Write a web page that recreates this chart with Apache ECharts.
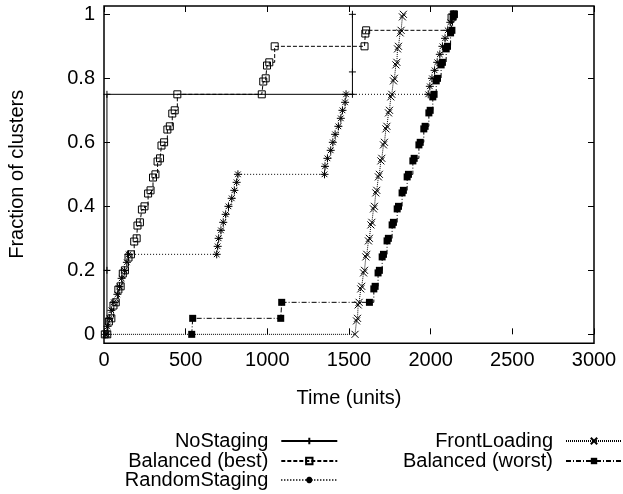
<!DOCTYPE html>
<html><head><meta charset="utf-8">
<script src="https://cdn.jsdelivr.net/npm/echarts@6/dist/echarts.min.js"></script>
<style>html,body{margin:0;padding:0;background:#fff}#c{width:623px;height:494px}</style>
</head><body><div id="c"></div>
<script>
const FONT = 'Liberation Sans, Arial, sans-serif';
const seriesNames = ['NoStaging', 'Balanced (best)', 'RandomStaging', 'FrontLoading', 'Balanced (worst)'];

const nsX = [18, 18, 18, 1521, 1521, 1521];
const nsY = [0, 0.2, 0.75, 0.75, 0.82, 1.0];

const bbX = [5, 20, 30, 45, 58, 72, 88, 102, 115, 128, 150, 165, 185, 200, 205, 220, 232, 248, 270, 285, 300, 315, 328, 343, 352, 368, 388, 403, 418, 433, 449, 966, 975, 990, 998, 1012, 1045, 1595, 1600, 1605, 2128, 2142];
const bbY = [0, 0, 0.04, 0.05, 0.09, 0.1, 0.14, 0.15, 0.19, 0.2, 0.24, 0.25, 0.29, 0.3, 0.34, 0.35, 0.39, 0.4, 0.44, 0.45, 0.49, 0.5, 0.54, 0.55, 0.59, 0.6, 0.64, 0.65, 0.69, 0.7, 0.75, 0.75, 0.79, 0.8, 0.84, 0.85, 0.9, 0.9, 0.94, 0.95, 0.99, 1.0];

const rsX = [8, 22, 33, 45, 60, 82, 95, 108, 125, 140, 150, 690, 696, 702, 716, 730, 745, 762, 782, 798, 812, 820, 1350, 1353, 1368, 1388, 1401, 1415, 1435, 1450, 1460, 1476, 1482, 1985, 1995, 2008, 2024, 2040, 2056, 2072, 2088, 2104, 2120, 2138];
const rsY = [0, 0.025, 0.05, 0.075, 0.1, 0.125, 0.15, 0.175, 0.2, 0.225, 0.25, 0.25, 0.275, 0.3, 0.325, 0.35, 0.375, 0.4, 0.425, 0.45, 0.475, 0.5, 0.5, 0.525, 0.55, 0.575, 0.6, 0.625, 0.65, 0.675, 0.7, 0.725, 0.75, 0.75, 0.775, 0.8, 0.825, 0.85, 0.875, 0.9, 0.925, 0.95, 0.975, 1.0];

const flX = [18, 1537, 1546, 1552, 1556, 1562, 1572, 1578, 1589, 1595, 1603, 1609, 1619, 1625, 1634, 1640, 1650, 1656, 1664, 1670, 1680, 1686, 1695, 1701, 1711, 1717, 1726, 1732, 1742, 1748, 1756, 1762, 1772, 1778, 1787, 1793, 1797, 1803, 1813, 1819, 1827, 1833];
const flY = [0, 0, 0.042, 0.05, 0.092, 0.1, 0.142, 0.15, 0.192, 0.2, 0.242, 0.25, 0.292, 0.3, 0.342, 0.35, 0.392, 0.4, 0.442, 0.45, 0.492, 0.5, 0.542, 0.55, 0.592, 0.6, 0.642, 0.65, 0.692, 0.7, 0.742, 0.75, 0.792, 0.8, 0.842, 0.85, 0.892, 0.9, 0.942, 0.95, 0.992, 1.0];

const bwX = [537, 543, 1082, 1088, 1625, 1652, 1660, 1678, 1686, 1703, 1711, 1733, 1741, 1764, 1772, 1795, 1803, 1825, 1833, 1856, 1864, 1891, 1899, 1928, 1936, 1958, 1966, 1989, 1997, 2013, 2021, 2034, 2042, 2064, 2072, 2095, 2103, 2122, 2130, 2138, 2144];
const bwY = [0, 0.05, 0.05, 0.1, 0.1, 0.142, 0.15, 0.192, 0.2, 0.242, 0.25, 0.292, 0.3, 0.342, 0.35, 0.392, 0.4, 0.442, 0.45, 0.492, 0.5, 0.542, 0.55, 0.592, 0.6, 0.642, 0.65, 0.692, 0.7, 0.742, 0.75, 0.792, 0.8, 0.842, 0.85, 0.892, 0.9, 0.942, 0.95, 0.992, 1.0];

const xMin = 0, xMax = 3000, xStep = 500;
const yMin = 0, yMax = 1, yStep = 0.2;

const PLUS = 'path://M0,5L10,5M5,0L5,10';
const CROSS = 'path://M0,0L10,10M10,0L0,10';
const STAR = 'path://M0,5L10,5M5,0L5,10M1.5,1.5L8.5,8.5M8.5,1.5L1.5,8.5';

function mk(name, xs, ys, symbol, size, lineType, itemStyle) {
  return {
    name, type: 'line', xAxisIndex: 0, yAxisIndex: 0, step: 'end',
    data: xs.map((x, i) => [x, ys[i]]),
    symbol, symbolSize: size, showAllSymbol: true,
    lineStyle: { color: '#000', width: 1, type: lineType },
    itemStyle, emphasis: { disabled: true }, silent: true, animation: false
  };
}
const strokeStyle = { color: '#000', borderColor: '#000', borderWidth: 1 };

const series = [
  mk(seriesNames[0], nsX, nsY, PLUS, 7, 'solid', strokeStyle),
  mk(seriesNames[1], bbX, bbY, 'rect', 7, [4, 2], { color: 'rgba(0,0,0,0)', borderColor: '#000', borderWidth: 1 }),
  mk(seriesNames[2], rsX, rsY, STAR, 8, [1, 2], strokeStyle),
  mk(seriesNames[3], flX, flY, CROSS, 7, [1, 1], strokeStyle),
  mk(seriesNames[4], bwX, bwY, 'rect', 7, [5, 2, 1, 2], { color: '#000', borderWidth: 0 })
];

const txt = { fontFamily: FONT, fontSize: 20, lineHeight: 20, color: '#000' };
function legendFor(name, right, top) {
  return {
    data: [name], right, top, orient: 'horizontal', align: 'right',
    itemWidth: 56, itemHeight: 8, padding: 0, selectedMode: false,
    textStyle: Object.assign({ padding: [0, 8, 0, 0] }, txt)
  };
}

const tick = { inside: true, length: 6, lineStyle: { color: '#000', width: 1 } };
const plain = v => String(Math.round(v * 1000) / 1000);

const chart = echarts.init(document.getElementById('c'), null, { renderer: 'canvas' });
chart.setOption({
  animation: false,
  backgroundColor: '#fff',
  grid: [
    { left: 104, right: 29, top: 6, bottom: 150.7, show: true, borderColor: '#000', borderWidth: 1.5, backgroundColor: 'transparent', outerBoundsMode: 'none' },
    { left: 104, right: 29, top: 14.3, bottom: 159.7, outerBoundsMode: 'none' }
  ],
  xAxis: [
    { gridIndex: 0, type: 'value', min: xMin, max: xMax, interval: xStep, position: 'bottom',
      axisLine: { show: false }, axisTick: tick, splitLine: { show: false },
      axisLabel: Object.assign({ margin: 7, formatter: plain }, txt),
      name: 'Time (units)', nameLocation: 'middle', nameGap: 45, nameTextStyle: txt },
    { gridIndex: 0, type: 'value', min: xMin, max: xMax, interval: xStep, position: 'top',
      axisLine: { show: false }, axisTick: tick, splitLine: { show: false }, axisLabel: { show: false } },
    { gridIndex: 1, type: 'value', min: xMin, max: xMax, show: false }
  ],
  yAxis: [
    { gridIndex: 0, type: 'value', min: -0.028, max: 1.026, show: false },
    { gridIndex: 1, type: 'value', min: yMin, max: yMax, interval: yStep, position: 'left',
      axisLine: { show: false }, axisTick: tick, splitLine: { show: false },
      axisLabel: Object.assign({ margin: 9, formatter: plain }, txt),
      name: 'Fraction of clusters', nameLocation: 'middle', nameGap: 77, nameRotate: 90, nameTextStyle: txt },
    { gridIndex: 1, type: 'value', min: yMin, max: yMax, interval: yStep, position: 'right',
      axisLine: { show: false }, axisTick: tick, splitLine: { show: false }, axisLabel: { show: false } }
  ],
  legend: [
    legendFor(seriesNames[0], 284.7, 431),
    legendFor(seriesNames[1], 284.7, 451),
    legendFor(seriesNames[2], 284.7, 470),
    legendFor(seriesNames[3], 0, 431),
    legendFor(seriesNames[4], 0, 451)
  ],
  series
});
</script></body></html>
